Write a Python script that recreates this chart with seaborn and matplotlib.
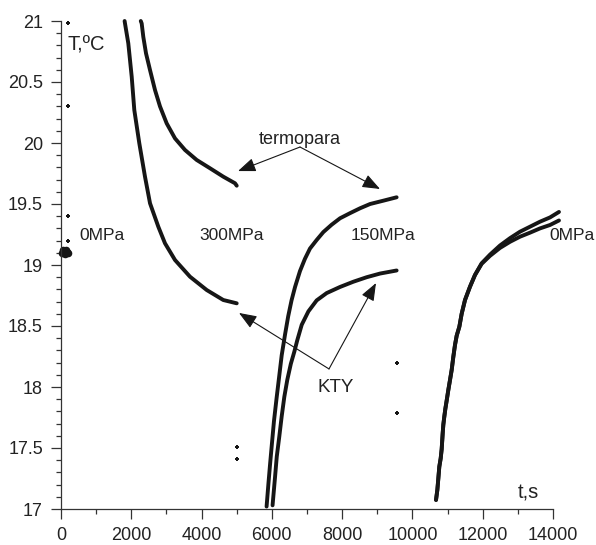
import matplotlib
matplotlib.use("Agg")
import matplotlib.pyplot as plt
import seaborn as sns
import pandas as pd

# --- measured cooling / warming curves -------------------------------------
# 300 MPa step
kty_300_t = [1810, 1821, 1915, 2012, 2086, 2228, 2390, 2533, 2769, 2959, 3244, 3671, 4146, 4618, 5000]
kty_300_T = [21.0, 20.98, 20.817, 20.543, 20.27, 19.998, 19.724, 19.506, 19.314, 19.178, 19.041, 18.904, 18.795, 18.713, 18.686]
termo_300_t = [2270, 2296, 2342, 2419, 2533, 2675, 2817, 3007, 3244, 3528, 3861, 4240, 4618, 4951, 5000]
termo_300_T = [21.0, 20.98, 20.87, 20.735, 20.598, 20.434, 20.30, 20.161, 20.038, 19.943, 19.861, 19.793, 19.724, 19.67, 19.65]

# 150 MPa step
termo_150_t = [5850, 5900, 5950, 6000, 6060, 6135, 6210, 6280, 6375, 6465, 6560, 6660, 6800, 6940,
               7085, 7275, 7465, 7700, 7940, 8225, 8510, 8795, 9170, 9550]
termo_150_T = [17.02, 17.2, 17.37, 17.53, 17.72, 17.91, 18.09, 18.26, 18.43, 18.58, 18.71, 18.82, 18.95, 19.05,
               19.135, 19.205, 19.27, 19.33, 19.383, 19.425, 19.465, 19.50, 19.527, 19.555]
kty_150_t = [6020, 6090, 6140, 6210, 6280, 6355, 6440, 6540, 6640, 6720, 6850, 7040, 7275, 7560,
             7940, 8320, 8700, 9080, 9550]
kty_150_T = [17.03, 17.26, 17.43, 17.59, 17.76, 17.92, 18.06, 18.19, 18.29, 18.38, 18.51, 18.62, 18.71, 18.77,
             18.82, 18.863, 18.90, 18.93, 18.955]

# 0 MPa step
termo_0_t = [10671, 10709, 10737, 10765, 10804, 10832, 10861, 10879, 10907, 10936, 10974, 11021, 11069,
             11117, 11164, 11211, 11259, 11335, 11401, 11496, 11638, 11780, 11970, 12207, 12492, 12776,
             13061, 13346, 13630, 13915, 14170]
termo_0_T = [17.074, 17.156, 17.25, 17.347, 17.415, 17.49, 17.62, 17.69, 17.757, 17.82, 17.888, 17.975, 18.057,
             18.14, 18.248, 18.344, 18.42, 18.494, 18.60, 18.713, 18.822, 18.918, 19.014, 19.085, 19.16, 19.22,
             19.273, 19.314, 19.355, 19.39, 19.435]
kty_0_t = [10671, 10709, 10737, 10765, 10804, 10832, 10861, 10879, 10907, 10936, 10974, 11021, 11069,
           11117, 11164, 11211, 11259, 11335, 11401, 11496, 11638, 11780, 11970, 12207, 12492, 12776,
           13061, 13346, 13630, 13915, 14170]
kty_0_T = [17.074, 17.156, 17.25, 17.347, 17.415, 17.49, 17.62, 17.69, 17.757, 17.82, 17.888, 17.975, 18.057,
           18.14, 18.248, 18.344, 18.42, 18.494, 18.60, 18.713, 18.822, 18.918, 19.01, 19.075, 19.14, 19.19,
           19.232, 19.265, 19.30, 19.328, 19.365]

# single readings taken at the pressure changes
start_t = [20, 50, 80, 110, 140, 170, 200]
start_T = [19.10, 19.12, 19.11, 19.09, 19.12, 19.11, 19.10]
stray_t = [200, 200, 200, 200, 5020, 5020, 9550, 9550]
stray_T = [20.98, 20.30, 19.40, 19.20, 17.51, 17.41, 18.20, 17.79]

x_ticks = [0, 2000, 4000, 6000, 8000, 10000, 12000, 14000]
y_ticks = [17, 17.5, 18, 18.5, 19, 19.5, 20, 20.5, 21]
y_tick_labels = ["17", "17.5", "18", "18.5", "19", "19.5", "20", "20.5", "21"]

# --- figure ----------------------------------------------------------------
sns.set_style("ticks")
plt.rcParams["font.family"] = ["Liberation Sans", "DejaVu Sans"]
txt = "#222222"
ink = "#161616"

fig = plt.figure(figsize=(5.96, 5.45), dpi=100)
ax = fig.add_axes([61 / 596, 1 - 509 / 545, (553 - 61) / 596, (509 - 21) / 545])

curves = [
    (kty_300_t, kty_300_T), (termo_300_t, termo_300_T),
    (termo_150_t, termo_150_T), (kty_150_t, kty_150_T),
    (termo_0_t, termo_0_T), (kty_0_t, kty_0_T),
]
for t, T in curves:
    df = pd.DataFrame({"t": t, "T": T})
    sns.lineplot(data=df, x="t", y="T", ax=ax, color=ink, lw=2.8,
                 sort=False, estimator=None, clip_on=False)

sns.scatterplot(x=start_t, y=start_T, ax=ax, color=ink, marker="o", s=30,
                linewidth=0, clip_on=False)
sns.scatterplot(x=stray_t, y=stray_T, ax=ax, color=ink, marker="P", s=12,
                linewidth=0, clip_on=False)

ax.set_xlim(0, 14000)
ax.set_ylim(17, 21)
ax.set_xticks(x_ticks)
ax.set_xticks(range(1000, 14000, 2000), minor=True)
ax.set_yticks(y_ticks)
ax.set_yticklabels(y_tick_labels)
ax.set_yticks([17 + 0.1 * i for i in range(41)], minor=True)
ax.set_xlabel("")
ax.set_ylabel("")
sns.despine(ax=ax)
for s in ("left", "bottom"):
    ax.spines[s].set_color("#333333")
    ax.spines[s].set_linewidth(0.9)
ax.tick_params(axis="both", which="major", direction="out", length=7, width=0.9,
               color="#333333", labelsize=13, labelcolor=txt, pad=6)
ax.tick_params(axis="both", which="minor", direction="out", length=3.5, width=0.9,
               color="#333333")

# --- labels ----------------------------------------------------------------
ax.text(190, 20.80, "T,ºC", fontsize=14.5, color=txt, ha="left", va="center")
ax.text(13000, 17.13, "t,s", fontsize=14.5, color=txt, ha="left", va="center")
for x, lab in [(520, "0MPa"), (3950, "300MPa"), (8230, "150MPa"), (13900, "0MPa")]:
    ax.text(x, 19.245, lab, fontsize=12.5, color=txt, ha="left", va="center")

ax.text(6800, 20.03, "termopara", fontsize=13, color=txt, ha="center", va="center")
ax.text(7313, 18.0, "KTY", fontsize=13.5, color=txt, ha="left", va="center")

arrow = dict(arrowstyle="-|>,head_length=0.9,head_width=0.35", color=ink,
             lw=0.8, shrinkA=0, shrinkB=0, mutation_scale=12)
ax.annotate("", xy=(5037, 19.77), xytext=(6801, 19.967), arrowprops=arrow)
ax.annotate("", xy=(9077, 19.623), xytext=(6801, 19.967), arrowprops=arrow)
ax.annotate("", xy=(5065, 18.607), xytext=(7626, 18.148), arrowprops=arrow)
ax.annotate("", xy=(8963, 18.852), xytext=(7626, 18.148), arrowprops=arrow)

fig.savefig("out.png", dpi=100)
